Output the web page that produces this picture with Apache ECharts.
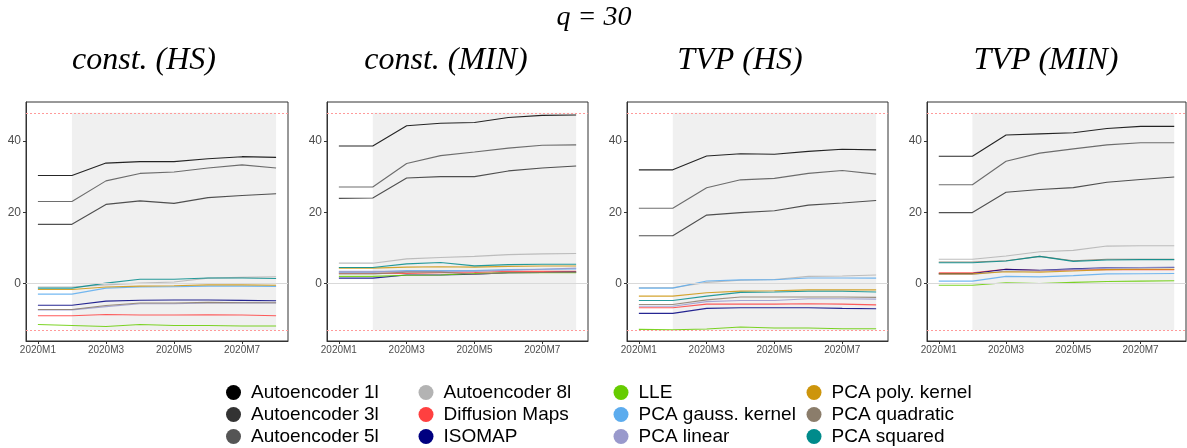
<!DOCTYPE html>
<html>
<head>
<meta charset="utf-8">
<script src="https://cdn.jsdelivr.net/npm/echarts@6/dist/echarts.min.js"></script>
<style>html,body{margin:0;padding:0;background:#fff}#c{width:1187px;height:448px}</style>
</head>
<body>
<div id="c"></div>
<script>
// ---- data ----
const months = ['2020M1','2020M2','2020M3','2020M4','2020M5','2020M6','2020M7','2020M8'];
const tickMonths = [1, 3, 5, 7];
const yTicks = [0, 20, 40];
const methods = ['Autoencoder 1l','Autoencoder 3l','Autoencoder 5l','Autoencoder 8l','Diffusion Maps','ISOMAP','LLE','PCA gauss. kernel','PCA linear','PCA poly. kernel','PCA quadratic','PCA squared'];
const mainTitle = 'q = 30';
const panelTitles = ['const. (HS)', 'const. (MIN)', 'TVP (HS)', 'TVP (MIN)'];
const bandTop = 47.9;
const bandBottom = -13.1;
const bandStart = 2;
const bandEnd = 8;

// rows follow the order of `methods`
const constHS = [
  [30.3,30.3,33.8,34.2,34.2,35.0,35.6,35.4],
  [16.6,16.6,22.2,23.2,22.5,24.1,24.7,25.2],
  [23.0,23.0,28.8,30.9,31.3,32.4,33.3,32.4],
  [-1.0,-1.0,-0.4,0.1,0.4,1.5,1.7,1.9],
  [-9.05,-9.05,-8.7,-8.85,-8.85,-8.8,-8.85,-9.05],
  [-6.1,-6.1,-4.95,-4.7,-4.65,-4.65,-4.75,-4.85],
  [-11.5,-11.8,-12.1,-11.5,-11.8,-11.8,-11.95,-11.95],
  [-3.0,-3.0,-1.3,-1.0,-0.9,-0.75,-0.75,-0.8],
  [-7.4,-7.4,-6.5,-5.7,-5.7,-5.5,-5.4,-5.5],
  [-1.7,-1.7,-1.0,-0.75,-0.65,-0.4,-0.4,-0.5],
  [-7.3,-7.3,-6.2,-5.5,-5.5,-5.3,-5.4,-5.4],
  [-1.3,-1.3,0.1,1.2,1.2,1.55,1.55,1.4]
];
const constMIN = [
  [38.6,38.6,44.3,45.0,45.2,46.6,47.2,47.3],
  [23.9,24.0,29.6,30.0,30.0,31.6,32.4,33.0],
  [27.1,27.1,33.7,35.9,36.9,38.0,38.8,38.9],
  [5.7,5.7,6.9,7.3,7.6,8.1,8.3,8.4],
  [2.9,2.9,2.8,3.0,3.1,3.4,3.4,3.4],
  [1.5,1.5,2.4,2.4,2.6,3.0,3.1,3.2],
  [2.0,2.0,2.3,2.4,2.8,3.0,3.0,3.0],
  [3.2,3.2,3.6,3.6,3.6,3.9,4.0,4.1],
  [3.4,3.4,3.4,3.4,3.4,3.7,4.0,4.3],
  [4.3,4.3,4.6,4.7,4.6,4.8,4.9,4.9],
  [2.7,2.7,3.2,3.2,2.6,3.0,3.1,3.2],
  [4.5,4.5,5.5,5.9,4.95,5.3,5.4,5.4]
];
const tvpHS = [
  [31.9,31.9,35.8,36.4,36.3,37.1,37.7,37.5],
  [13.4,13.4,19.2,19.9,20.4,22.0,22.6,23.3],
  [21.1,21.1,26.9,29.1,29.5,30.9,31.7,30.7],
  [-1.2,-1.2,0.3,0.9,1.1,2.0,2.1,2.4],
  [-6.8,-6.8,-5.8,-5.8,-5.8,-5.7,-5.8,-6.0],
  [-8.4,-8.4,-7.0,-6.8,-6.8,-6.8,-7.0,-7.1],
  [-12.9,-13.0,-12.8,-12.2,-12.5,-12.5,-12.7,-12.7],
  [-1.3,-1.3,0.7,1.0,1.05,1.55,1.55,1.5],
  [-6.4,-6.4,-5.1,-4.8,-4.8,-4.3,-4.3,-4.4],
  [-3.55,-3.55,-2.6,-2.15,-2.05,-1.8,-1.8,-1.8],
  [-5.9,-5.9,-4.6,-3.8,-3.8,-3.8,-3.8,-3.9],
  [-4.8,-4.8,-3.55,-2.5,-2.4,-2.2,-2.2,-2.4]
];
const tvpMIN = [
  [35.7,35.7,41.7,42.0,42.3,43.5,44.1,44.1],
  [19.9,19.9,25.6,26.4,26.9,28.4,29.2,29.9],
  [27.7,27.7,34.3,36.6,37.8,38.9,39.5,39.5],
  [6.8,6.8,7.7,8.9,9.3,10.5,10.6,10.6],
  [3.0,3.0,4.0,3.6,3.8,3.9,3.9,3.9],
  [2.8,2.8,4.0,3.7,4.1,4.4,4.4,4.5],
  [-0.5,-0.5,0.2,0.0,0.3,0.55,0.65,0.75],
  [0.65,0.65,2.0,1.85,2.2,2.7,2.75,2.8],
  [2.5,2.5,3.5,3.6,3.9,4.3,4.5,4.6],
  [2.7,2.7,3.3,3.2,3.5,3.9,4.0,4.0],
  [6.05,6.05,6.4,7.6,6.4,6.8,6.8,6.8],
  [5.8,5.8,6.3,7.6,6.2,6.6,6.7,6.7]
];
const panels = [constHS, constMIN, tvpHS, tvpMIN];

// ---- styles ----
const colors = ['#000000','#333333','#555555','#b3b3b3','#ff4040','#000080','#66cc00','#5cacee','#9999cc','#cd950c','#8b7d6b','#008b8b'];
const gridLeft = [26, 327, 627, 927];
const gridWidth = [262, 261, 261, 259];
const gridTop = 102, gridHeight = 239;
const titleX = [144, 446, 740, 1046];

const yPad = (bandTop - bandBottom) * 0.05;
const yMin = bandBottom - yPad, yMax = bandTop + yPad;
const xPad = (months.length - 1) * 0.05;
const xMin = 1 - xPad, xMax = months.length + xPad;

const refLine = {color: '#ff9a9a', type: [2, 2], width: 1, opacity: 1};

const grids = [], xAxes = [], yAxes = [], series = [];
panels.forEach((pdata, p) => {
  grids.push({left: gridLeft[p], top: gridTop, width: gridWidth[p], height: gridHeight,
    show: true, borderColor: '#333', borderWidth: 1, backgroundColor: 'transparent', containLabel: false});
  xAxes.push({type: 'value', gridIndex: p, min: xMin, max: xMax,
    axisLine: {show: true, onZero: false, lineStyle: {color: '#333', width: 1}},
    axisTick: {show: true, customValues: tickMonths, length: 3, lineStyle: {color: '#333'}},
    axisLabel: {show: true, customValues: tickMonths, formatter: v => months[Math.round(v) - 1],
      fontSize: 10, color: '#4d4d4d', margin: 4, fontFamily: 'Liberation Sans'},
    splitLine: {show: false}});
  yAxes.push({type: 'value', gridIndex: p, min: yMin, max: yMax,
    axisLine: {show: true, onZero: false, lineStyle: {color: '#333', width: 1}},
    axisTick: {show: true, customValues: yTicks, length: 3, lineStyle: {color: '#333'}},
    axisLabel: {show: true, customValues: yTicks, fontSize: 12, color: '#4d4d4d', margin: 5, fontFamily: 'Liberation Sans'},
    splitLine: {show: false}});
  // background band
  series.push({type: 'line', xAxisIndex: p, yAxisIndex: p, data: [], z: 1, silent: true,
    markArea: {silent: true, itemStyle: {color: '#f0f0f0', borderWidth: 0},
      data: [[{coord: [bandStart, bandTop]}, {coord: [bandEnd, bandBottom]}]]}});
  // zero line
  series.push({type: 'line', xAxisIndex: p, yAxisIndex: p, data: [], z: 2, silent: true,
    markLine: {silent: true, symbol: 'none', label: {show: false}, animation: false,
      lineStyle: {color: '#d9d9d9', type: 'solid', width: 1},
      emphasis: {disabled: true},
      data: [{yAxis: 0}]}});
  // band limits
  series.push({type: 'line', xAxisIndex: p, yAxisIndex: p, data: [], z: 4, silent: true,
    markLine: {silent: true, symbol: 'none', label: {show: false}, animation: false,
      lineStyle: refLine, emphasis: {disabled: true},
      data: [{yAxis: bandTop}, {yAxis: bandBottom}]}});
  pdata.forEach((vals, m) => {
    series.push({type: 'line', name: methods[m], xAxisIndex: p, yAxisIndex: p, z: 3,
      data: vals.map((v, i) => [i + 1, v]), showSymbol: false, symbol: 'circle', silent: true,
      lineStyle: {color: colors[m], width: 1.1, opacity: 0.85}, itemStyle: {color: colors[m]},
      emphasis: {disabled: true}, animation: false});
  });
});

const legendLeft = [226, 418.5, 613.5, 806.5];
const legends = [0, 1, 2, 3].map(c => ({
  orient: 'vertical', left: legendLeft[c], top: 383, padding: 0,
  data: methods.slice(c * 3, c * 3 + 3), icon: 'circle', itemWidth: 15, itemHeight: 15, itemGap: 3,
  textStyle: {fontSize: 19, color: '#000', fontFamily: 'Liberation Sans', padding: [0, 0, 0, 5]},
  selectedMode: false
}));

const graphics = [{type: 'text', x: 594, y: 4, style: {text: mainTitle, font: 'italic 28px "Liberation Serif"', fill: '#000', textAlign: 'center', textVerticalAlign: 'top'}}];
panelTitles.forEach((t, p) => graphics.push({type: 'text', x: titleX[p], y: 45,
  style: {text: t, font: 'italic 32px "Liberation Serif"', fill: '#000', textAlign: 'center', textVerticalAlign: 'top'}}));

const chart = echarts.init(document.getElementById('c'), null, {renderer: 'canvas'});
chart.setOption({animation: false, backgroundColor: '#fff', grid: grids, xAxis: xAxes, yAxis: yAxes,
  series: series, legend: legends, graphic: graphics});
</script>
</body>
</html>
